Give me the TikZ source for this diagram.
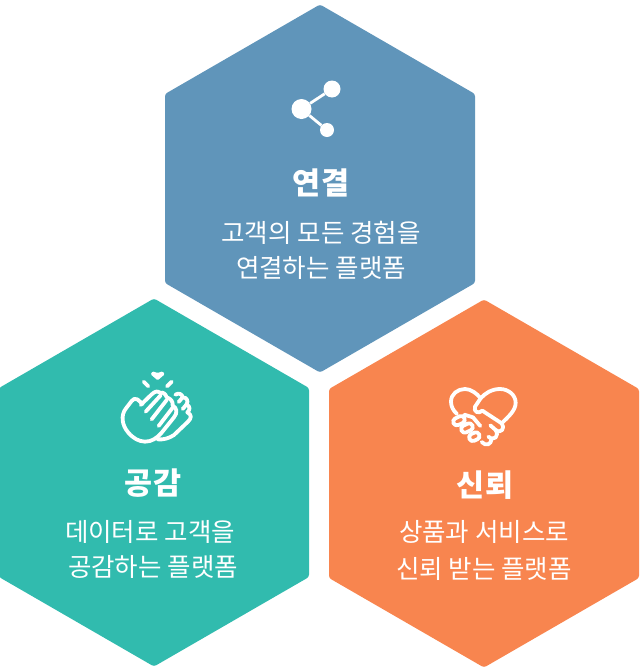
\documentclass[tikz,border=0pt]{standalone}
\usepackage{fontspec}
\setmainfont{Noto Sans CJK KR}
\definecolor{hexblue}{HTML}{6095BA}
\definecolor{hexteal}{HTML}{31BBAE}
\definecolor{hexorange}{HTML}{F8854F}
\tikzset{
  hexagon/.style={rounded corners=2.5pt, draw=none},
  title/.style={text=white, font=\fontsize{30.5}{30.5}\selectfont\bfseries, inner sep=0pt},
  body/.style={text=white, font=\fontsize{25.5}{25.5}\selectfont, inner sep=0pt},
  icon/.style={draw=white, line width=3.8pt, line cap=round, line join=round},
  zoomed/.style={x=0.3333pt, y=-0.3333pt}
}
\begin{document}
\begin{tikzpicture}[x=1pt, y=-1pt]
  \useasboundingbox (0,0) rectangle (641,667);
  \fill[hexblue, hexagon] (320,4.5) -- (475,94) -- (475,283) -- (320,372.5) -- (165,283) -- (165,94) -- cycle;
  \fill[hexteal, hexagon] (154,298.5) -- (309,388) -- (309,577) -- (154,666.5) -- (-1,577) -- (-1,388) -- cycle;
  \fill[hexorange, hexagon] (484,299.5) -- (639,389) -- (639,578) -- (484,667.5) -- (329,578) -- (329,389) -- cycle;

  \node[title] (connecttitle) at (321,183) {연결};
  \node[body] (connectone) at (321,232.5) {고객의 모든 경험을};
  \node[body] (connecttwo) at (321,267.5) {연결하는 플랫폼};
  \node[title] (sympathytitle) at (153,483) {공감};
  \node[body] (sympathyone) at (150,531.5) {데이터로 고객을};
  \node[body] (sympathytwo) at (153,566.5) {공감하는 플랫폼};
  \node[title] (trusttitle) at (485,485) {신뢰};
  \node[body] (trustone) at (484,531.5) {상품과 서비스로};
  \node[body] (trusttwo) at (484,568.5) {신뢰 받는 플랫폼};

  % share icon
  \node[circle, fill=white, inner sep=0pt, minimum size=20pt] (sharemain) at (301.5,109) {};
  \node[circle, fill=white, inner sep=0pt, minimum size=17pt] (shareup) at (332,89) {};
  \node[circle, fill=white, inner sep=0pt, minimum size=14pt] (sharedown) at (327,130) {};
  \draw[white, line width=2.8pt] (sharemain) -- (shareup);
  \draw[white, line width=2.8pt] (sharemain) -- (sharedown);

  % clap icon
  \begin{scope}[shift={(100,360)}, zoomed]
    \fill[white, rounded corners=1pt] (173,61) -- (152,43) -- (158,34) -- (173,39) -- (188,34) -- (194,43) -- cycle;
    \draw[icon] (131,65) -- (145,79);
    \draw[icon] (215,65) -- (201,79);
    \draw[icon] (128,132) -- (112,118) .. controls (105,113) and (100,118) .. (95,123) -- (78,145)
      .. controls (62,165) and (65,195) .. (85,218) .. controls (100,235) and (115,244) .. (135,245)
      .. controls (155,245) and (170,235) .. (185,218) -- (222,172)
      .. controls (234,158) and (230,142) .. (218,137) .. controls (220,124) and (212,116) .. (200,112)
      .. controls (197,102) and (190,96) .. (180,98);
    \draw[icon] (180,98) .. controls (172,92) and (165,94) .. (155,103) -- (122,135);
    \draw[icon] (182,106) -- (137,155);
    \draw[icon] (200,120) -- (155,178);
    \draw[icon] (218,143) -- (176,198);
    \draw[icon] (226,104) .. controls (237,97) and (247,103) .. (248,112) .. controls (260,112) and (266,122) .. (260,133)
      .. controls (272,140) and (270,150) .. (262,157) .. controls (277,165) and (274,175) .. (264,185)
      -- (222,225) .. controls (207,235) and (190,240) .. (172,238);
    \draw[icon] (248,112) -- (236,126);
    \draw[icon] (260,133) -- (248,147);
  \end{scope}

  % handshake icon
  \begin{scope}[shift={(445,380)}, zoomed]
    \draw[icon] (36,102) .. controls (25,92) and (18,80) .. (18,65) .. controls (18,42) and (38,27) .. (60,27)
      .. controls (78,27) and (95,40) .. (107,55) .. controls (120,40) and (140,27) .. (165,27)
      .. controls (190,27) and (212,45) .. (212,68) .. controls (212,92) and (190,110) .. (170,130);
    \draw[icon] (107,55) -- (90,80) .. controls (85,95) and (100,103) .. (112,92) -- (170,130)
      .. controls (182,144) and (168,162) .. (152,150) -- (136,136);
    \draw[icon] (152,150) .. controls (164,170) and (146,184) .. (130,170);
    \draw[icon] (140,176) .. controls (138,194) and (124,200) .. (110,186);
    \draw[icon] (58,104) -- (84,112) -- (106,138);
    \draw[icon, rounded corners=3.5pt, rotate around={25:(42,122)}] (24,111) rectangle (60,133);
    \draw[icon, rounded corners=3.5pt, rotate around={25:(66,144)}] (48,133) rectangle (84,155);
    \draw[icon, rounded corners=3.5pt, rotate around={25:(88,170)}] (72,159) rectangle (104,181);
  \end{scope}
\end{tikzpicture}
\end{document}
